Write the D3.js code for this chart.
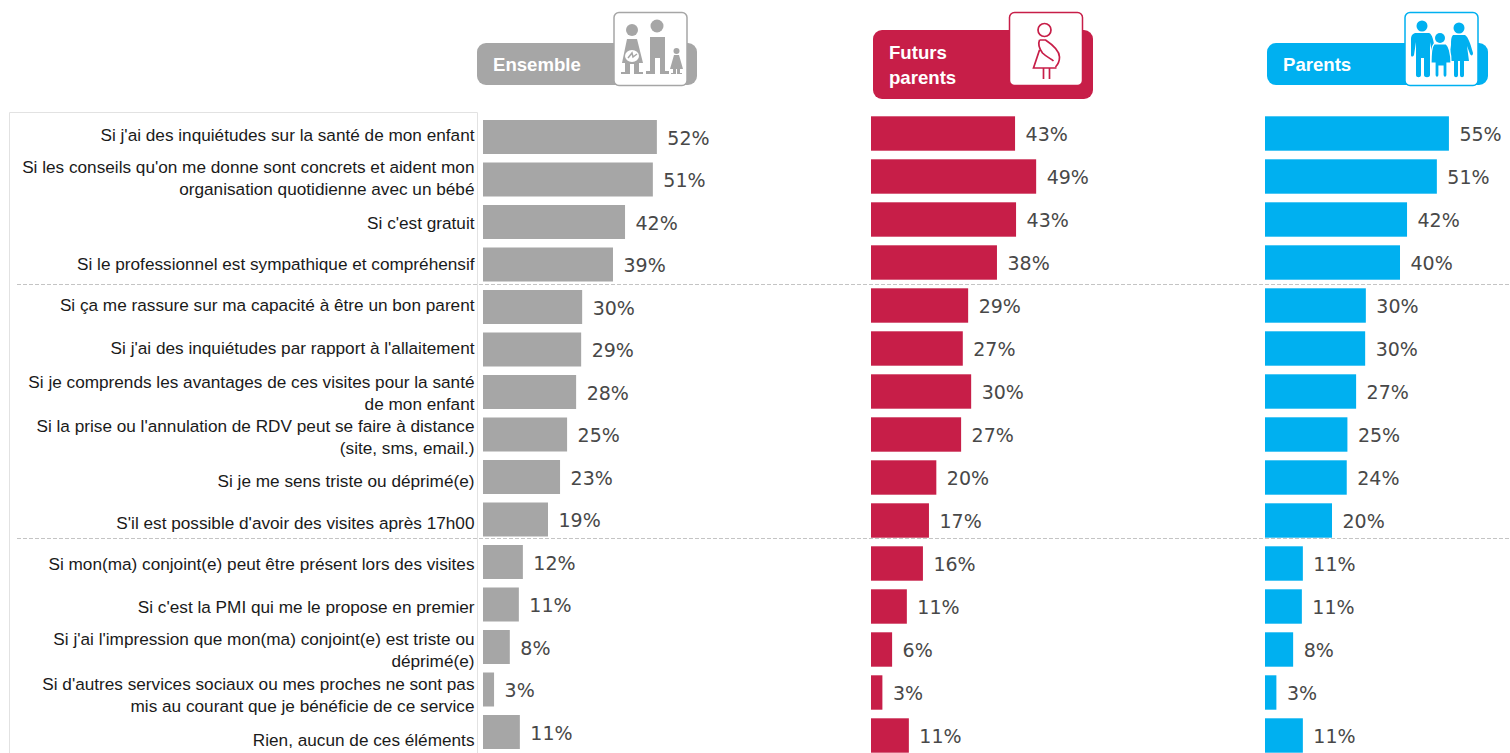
<!DOCTYPE html>
<html>
<head>
<meta charset="utf-8">
<script src="https://cdn.jsdelivr.net/npm/d3@7"></script>
<style>
body { margin: 0; background: #fff; overflow: hidden; }
text { font-family: "Liberation Sans", Arial, sans-serif; }
</style>
</head>
<body>
<div id="chart"></div>
<script>
var svgWidth = 1510;
var svgHeight = 753;

var categories = [
    ["Si j'ai des inquiétudes sur la santé de mon enfant"],
    ["Si les conseils qu'on me donne sont concrets et aident mon", "organisation quotidienne avec un bébé"],
    ["Si c'est gratuit"],
    ["Si le professionnel est sympathique et compréhensif"],
    ["Si ça me rassure sur ma capacité à être un bon parent"],
    ["Si j'ai des inquiétudes par rapport à l'allaitement"],
    ["Si je comprends les avantages de ces visites pour la santé", "de mon enfant"],
    ["Si la prise ou l'annulation de RDV peut se faire à distance", "(site, sms, email.)"],
    ["Si je me sens triste ou déprimé(e)"],
    ["S'il est possible d'avoir des visites après 17h00"],
    ["Si mon(ma) conjoint(e) peut être présent lors des visites"],
    ["Si c'est la PMI qui me le propose en premier"],
    ["Si j'ai l'impression que mon(ma) conjoint(e) est triste ou", "déprimé(e)"],
    ["Si d'autres services sociaux ou mes proches ne sont pas", "mis au courant que je bénéficie de ce service"],
    ["Rien, aucun de ces éléments"]
];

// bar lengths carry a decimal; labels are the rounded value
var ensemble = [51.9, 50.7, 42.4, 38.8, 29.6, 29.3, 27.8, 25.1, 23, 19.4, 11.9, 10.7, 8, 3.3, 11];
var futurs = [43, 49.3, 43.3, 37.6, 29, 27.4, 29.9, 26.9, 19.5, 17.3, 15.5, 10.7, 6.3, 3.4, 11.3];
var parents = [54.9, 51.3, 42.4, 40.3, 30.1, 29.9, 27.2, 24.6, 24.4, 20, 11.3, 11, 8.4, 3.4, 11.3];

var panels = [
    {name: ["Ensemble"], values: ensemble, color: "#a6a6a6", x0: 483, top: 115.75, step: 42.5},
    {name: ["Futurs", "parents"], values: futurs, color: "#c71e48", x0: 871, top: 112, step: 43},
    {name: ["Parents"], values: parents, color: "#00b0f0", x0: 1265, top: 112, step: 43}
];

var svg = d3.select("#chart").append("svg")
    .attr("width", svgWidth)
    .attr("height", svgHeight)
    .style("display", "block");

// frame behind the labels
svg.append("path")
    .attr("d", "M9.5,753V112.5H477.5V753")
    .attr("fill", "none")
    .attr("stroke", "#e2e2e2");

// dashed separators between the groups
var separators = [284.5, 538.5];
svg.selectAll(".sep")
    .data(separators)
    .enter()
    .append("line")
    .attr("class", "sep")
    .attr("x1", 17)
    .attr("x2", 1510)
    .attr("y1", function(d) { return d; })
    .attr("y2", function(d) { return d; })
    .attr("stroke", "#c4c4c4")
    .attr("stroke-dasharray", "4,2");

// category labels
var labelY = d3.scaleBand()
    .domain(d3.range(categories.length))
    .range([112.5, 112.5 + 43 * categories.length])
    .paddingInner(0.2)
    .paddingOuter(0.1);

// the source text boxes are not quite evenly spaced
var labelNudge = [0, 0, 2, 0, -2, -2, 0, 1, 2, 1, -1, -1, -1, 1, 3];

var labels = svg.selectAll(".cat")
    .data(categories)
    .enter()
    .append("text")
    .attr("class", "cat")
    .attr("text-anchor", "end")
    .attr("font-size", "17.2px")
    .attr("fill", "#1a1a1a");

labels.selectAll("tspan")
    .data(function(d, i) {
        return d.map(function(line, j) {
            return {line: line, j: j, n: d.length, i: i};
        });
    })
    .enter()
    .append("tspan")
    .attr("x", 474.5)
    .attr("y", function(d) {
        var mid = labelY(d.i) + labelY.bandwidth() / 2 + 1 + labelNudge[d.i];
        return mid + 6 + (d.j - (d.n - 1) / 2) * 22;
    })
    .text(function(d) { return d.line; });

var x = d3.scaleLinear().domain([0, 10]).range([0, 33.5]);

panels.forEach(function(p) {
    var y = d3.scaleBand()
        .domain(d3.range(p.values.length))
        .range([p.top, p.top + p.step * p.values.length])
        .paddingInner(0.2)
        .paddingOuter(0.1);

    var g = svg.append("g").attr("transform", "translate(" + p.x0 + ",0)");

    g.selectAll("rect")
        .data(p.values)
        .enter()
        .append("rect")
        .attr("x", 0)
        .attr("y", function(d, i) { return y(i); })
        .attr("width", function(d) { return x(d); })
        .attr("height", y.bandwidth())
        .attr("fill", p.color);

    g.selectAll("text")
        .data(p.values)
        .enter()
        .append("text")
        .attr("x", function(d) { return x(d) + 10.5; })
        .attr("y", function(d, i) { return y(i) + y.bandwidth() / 2 + 7.5; })
        .style("font-family", "'DejaVu Sans', sans-serif")
        .style("font-size", "19px")
        .attr("fill", "#484848")
        .text(function(d) { return Math.round(d) + "%"; });
});

// header tabs
var headers = [
    {x: 477, y: 43, w: 220, h: 42, box: [614, 12.5, 73, 73], tx: 493, ty: 71},
    {x: 873, y: 30, w: 220, h: 69, box: [1009.5, 12.5, 73, 73], tx: 889, ty: 59},
    {x: 1267, y: 43, w: 221, h: 42, box: [1405, 12.5, 73, 73], tx: 1283, ty: 71}
];

headers.forEach(function(h, i) {
    var p = panels[i];
    svg.append("rect")
        .attr("x", h.x).attr("y", h.y)
        .attr("width", h.w).attr("height", h.h)
        .attr("rx", 9)
        .attr("fill", p.color);
    var t = svg.append("text")
        .attr("fill", "#fff")
        .attr("font-size", "18.6px")
        .attr("font-weight", "bold");
    p.name.forEach(function(line, j) {
        t.append("tspan").attr("x", h.tx).attr("y", h.ty + j * 24.5).text(line);
    });
    svg.append("rect")
        .attr("x", h.box[0]).attr("y", h.box[1])
        .attr("width", h.box[2]).attr("height", h.box[3])
        .attr("rx", 5)
        .attr("fill", "#fff")
        .attr("stroke", p.color)
        .attr("stroke-width", 1.5);
});

// pictograms
function icon(tx, ty) {
    return svg.append("g").attr("transform", "translate(" + tx + "," + ty + ")");
}

// Ensemble: mother, father, child
var a = icon(614, 12).attr("fill", "#a6a6a6");
a.append("circle").attr("cx", 18).attr("cy", 18).attr("r", 6);
a.append("path").attr("d", "M13,27H23L29,51H25V60H29V62H20V52H16V62H7V60H11V51H8Z");
a.append("ellipse").attr("cx", 18).attr("cy", 44).attr("rx", 7).attr("ry", 6).attr("fill", "#fff");
a.append("path").attr("d", "M14,46L18,41L19,45L23,42").attr("fill", "none").attr("stroke", "#a6a6a6").attr("stroke-width", 1.5);
a.append("circle").attr("cx", 43).attr("cy", 14).attr("r", 6.5);
a.append("path").attr("d", "M36,25H51V59H55V62H46V46H41V62H32V59H36Z");
a.append("circle").attr("cx", 62.5).attr("cy", 39).attr("r", 3);
a.append("path").attr("d", "M60,43H65L69,57H66V61H68V62H63V57H62V62H57V61H59V57H56Z");

// Futurs parents: pregnant woman outline
var b = icon(1009.5, 12).attr("fill", "none").attr("stroke", "#c71e48").attr("stroke-width", 1.7);
b.append("circle").attr("cx", 35).attr("cy", 18).attr("r", 6.5);
b.append("path").attr("d", "M30,28H36C42,32 50,38 50,45C50,50 48,53 46,55M30,28C28,33 30,37 33,41C37,45 42,47 44,49M30,38L24,56H47M34,56V67M40,56V67");

// Parents: family
var c = icon(1405, 12).attr("fill", "#00b0f0");
c.append("circle").attr("cx", 17).attr("cy", 14).attr("r", 5.5);
c.append("path").attr("d", "M10,21H24C27,22 29,28 30,41C30,44 27,44 27,41L25,30V63C25,66 19,66 19,63V46H16V63C16,66 11,66 11,63V30L9,43C8,45 6,45 6,43L6,27C6,24 7,22 10,21Z");
c.append("circle").attr("cx", 54).attr("cy", 16).attr("r", 5.5);
c.append("path").attr("d", "M48,23H60C63,25 65,30 68,41C68,44 66,44 65,42L62,34L64,49H59V63C59,66 55,66 55,63V49H53V63C53,66 49,66 49,63V49H44L46,33C46,28 46,25 48,23Z");
c.append("circle").attr("cx", 35).attr("cy", 26).attr("r", 5);
c.append("path").attr("d", "M29,32H41C44,34 46,42 46,51H42V63C42,66 38,66 38,63V54H34V63C34,66 30,66 30,63V51H26C26,42 27,34 29,32Z")
    .attr("stroke", "#fff").attr("stroke-width", 1.2);
</script>
</body>
</html>
